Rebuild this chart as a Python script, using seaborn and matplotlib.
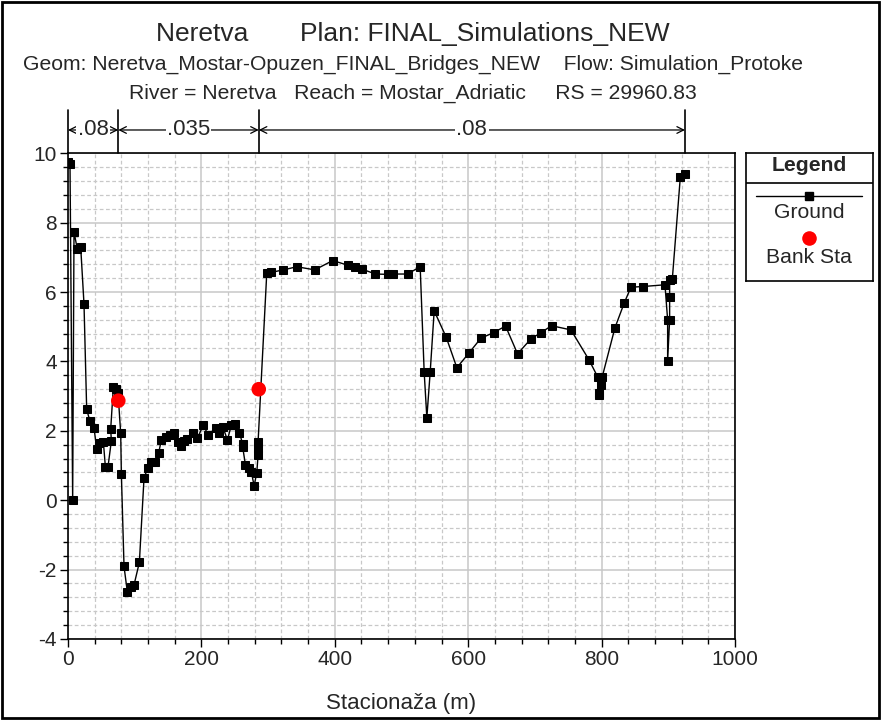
import matplotlib
matplotlib.use("Agg")
import matplotlib.pyplot as plt
import matplotlib.transforms as mtransforms
from matplotlib.patches import Rectangle
from matplotlib.ticker import MultipleLocator
import seaborn as sns

# ground profile (station, elevation), in drawing order
station = [0, 3, 7, 9, 14, 19, 24, 28, 33, 39, 43, 47, 53, 56, 60, 65, 64, 68, 72, 75,
           79, 80, 84, 89, 95, 99, 107, 114, 120, 125, 130, 136, 140, 147, 153, 159,
           165, 169, 174, 179, 187, 194, 203, 210, 222, 226, 232, 239, 245, 251, 257,
           262, 262, 266, 271, 275, 279, 283, 285, 285, 285, 298, 305, 323, 343, 370,
           397, 420, 430, 441, 461, 480, 488, 509, 528, 534, 538, 543, 549, 567, 583,
           601, 619, 638, 656, 674, 694, 709, 725, 754, 781, 794, 796, 796, 799, 801,
           820, 834, 844, 862, 895, 899, 899, 902, 902, 902, 906, 918, 925]
elevation = [9.75, 9.69, 0.0, 7.74, 7.23, 7.31, 5.65, 2.62, 2.27, 2.09, 1.47, 1.64, 1.69,
             0.97, 0.97, 1.71, 2.05, 3.26, 3.20, 3.10, 1.93, 0.76, -1.91, -2.65, -2.49,
             -2.44, -1.79, 0.65, 0.94, 1.11, 1.11, 1.37, 1.74, 1.82, 1.89, 1.93, 1.69,
             1.55, 1.71, 1.76, 1.93, 1.79, 2.17, 1.88, 2.09, 1.93, 2.12, 1.74, 2.17, 2.20,
             1.95, 1.61, 1.52, 1.02, 0.94, 0.80, 0.42, 0.78, 1.31, 1.50, 1.69, 6.55, 6.57,
             6.64, 6.73, 6.64, 6.91, 6.77, 6.71, 6.66, 6.52, 6.51, 6.52, 6.52, 6.73, 3.69,
             2.38, 3.69, 5.46, 4.70, 3.82, 4.24, 4.67, 4.83, 5.02, 4.22, 4.65, 4.83, 5.03,
             4.91, 4.05, 3.56, 3.10, 3.03, 3.32, 3.56, 4.97, 5.69, 6.14, 6.16, 6.21, 5.20,
             4.02, 5.20, 5.87, 6.35, 6.37, 9.31, 9.40]

bank_station = [75.4, 286]
bank_elev = [2.87, 3.20]

# Manning's n regions
n_edges = [0, 75.4, 286, 925]
n_values = [".08", ".035", ".08"]

title_lines = [
    "Neretva       Plan: FINAL_Simulations_NEW",
    "Geom: Neretva_Mostar-Opuzen_FINAL_Bridges_NEW    Flow: Simulation_Protoke",
    "River = Neretva   Reach = Mostar_Adriatic     RS = 29960.83",
]

sns.set_theme(style="white")
plt.rcParams["font.family"] = ["Liberation Sans", "DejaVu Sans"]
plt.rcParams["axes.unicode_minus"] = False

W, H = 883, 720
fig = plt.figure(figsize=(W / 100, H / 100), dpi=100)
ax = fig.add_axes([68 / W, 1 - 639 / H, 667 / W, 485.7 / H])

sns.lineplot(x=station, y=elevation, sort=False, estimator=None, ax=ax,
             color="black", linewidth=1, marker="s", markersize=6,
             markeredgecolor="black", markerfacecolor="black", zorder=3)
sns.scatterplot(x=bank_station, y=bank_elev, ax=ax, color="red", s=110,
                edgecolor="none", zorder=4)

ax.set_xlim(0, 1000)
ax.set_ylim(-4, 10)
ax.xaxis.set_major_locator(MultipleLocator(200))
ax.xaxis.set_minor_locator(MultipleLocator(40))
ax.yaxis.set_major_locator(MultipleLocator(2))
ax.yaxis.set_minor_locator(MultipleLocator(0.4))
ax.grid(which="major", color="#c8c8c8", linewidth=1.1, linestyle="-")
ax.grid(which="minor", color="#c8c8c8", linewidth=0.9, linestyle=(0, (3, 2)))
ax.set_axisbelow(True)
ax.tick_params(which="major", direction="out", length=6, width=1, color="black",
               labelsize=15, bottom=True, left=True, pad=2)
ax.tick_params(which="minor", direction="out", length=3.5, width=1, color="black",
               bottom=True, left=True)
for sp in ax.spines.values():
    sp.set_color("black")
    sp.set_linewidth(1.2)
ax.set_xlabel("Stacionaža (m)", fontsize=16, labelpad=17)
ax.set_ylabel("")

# Manning's n annotation above the plot
trans = mtransforms.blended_transform_factory(ax.transData, ax.transAxes)
for e in n_edges:
    ax.plot([e, e], [1.0, 1.089], transform=trans, color="black", lw=1.2, clip_on=False)
for (a, b), lab in zip(zip(n_edges[:-1], n_edges[1:]), n_values):
    ax.annotate("", xy=(a, 1.048), xytext=(b, 1.048), xycoords=trans, textcoords=trans,
                arrowprops=dict(arrowstyle="<->", color="black", lw=0.9,
                                shrinkA=0, shrinkB=0))
    ax.text((a + b) / 2, 1.048, lab, transform=trans, ha="center", va="center",
            fontsize=16, bbox=dict(facecolor="white", edgecolor="none", pad=1.0))

# titles
for txt, yp, fs in zip(title_lines, [34, 64, 93], [19, 15.2, 15.2]):
    fig.text(413 / W, 1 - yp / H, txt, ha="center", va="center", fontsize=fs)

# legend box
lg = fig.add_axes([745.7 / W, 1 - 280.7 / H, 127 / W, 127.4 / H])
lg.set_xlim(0, 1)
lg.set_ylim(0, 1)
lg.set_xticks([])
lg.set_yticks([])
for sp in lg.spines.values():
    sp.set_color("black")
    sp.set_linewidth(1.2)
lg.text(0.5, 0.905, "Legend", ha="center", va="center", fontsize=15.2, weight="bold")
lg.plot([0, 1], [0.769, 0.769], color="black", lw=1.2)
lg.plot([0.081, 0.913], [0.667, 0.667], color="black", lw=1)
lg.plot([0.5], [0.667], marker="s", color="black", markersize=6)
lg.text(0.5, 0.535, "Ground", ha="center", va="center", fontsize=15.2)
lg.plot([0.5], [0.335], marker="o", color="red", markersize=10.5, markeredgecolor="none")
lg.text(0.5, 0.18, "Bank Sta", ha="center", va="center", fontsize=15.2)

# outer frame
fig.patches.append(Rectangle((1.5 / W, 2 / H), 877 / W, 716 / H, transform=fig.transFigure,
                             fill=False, edgecolor="black", linewidth=2))

fig.savefig("out.png", dpi=100)
